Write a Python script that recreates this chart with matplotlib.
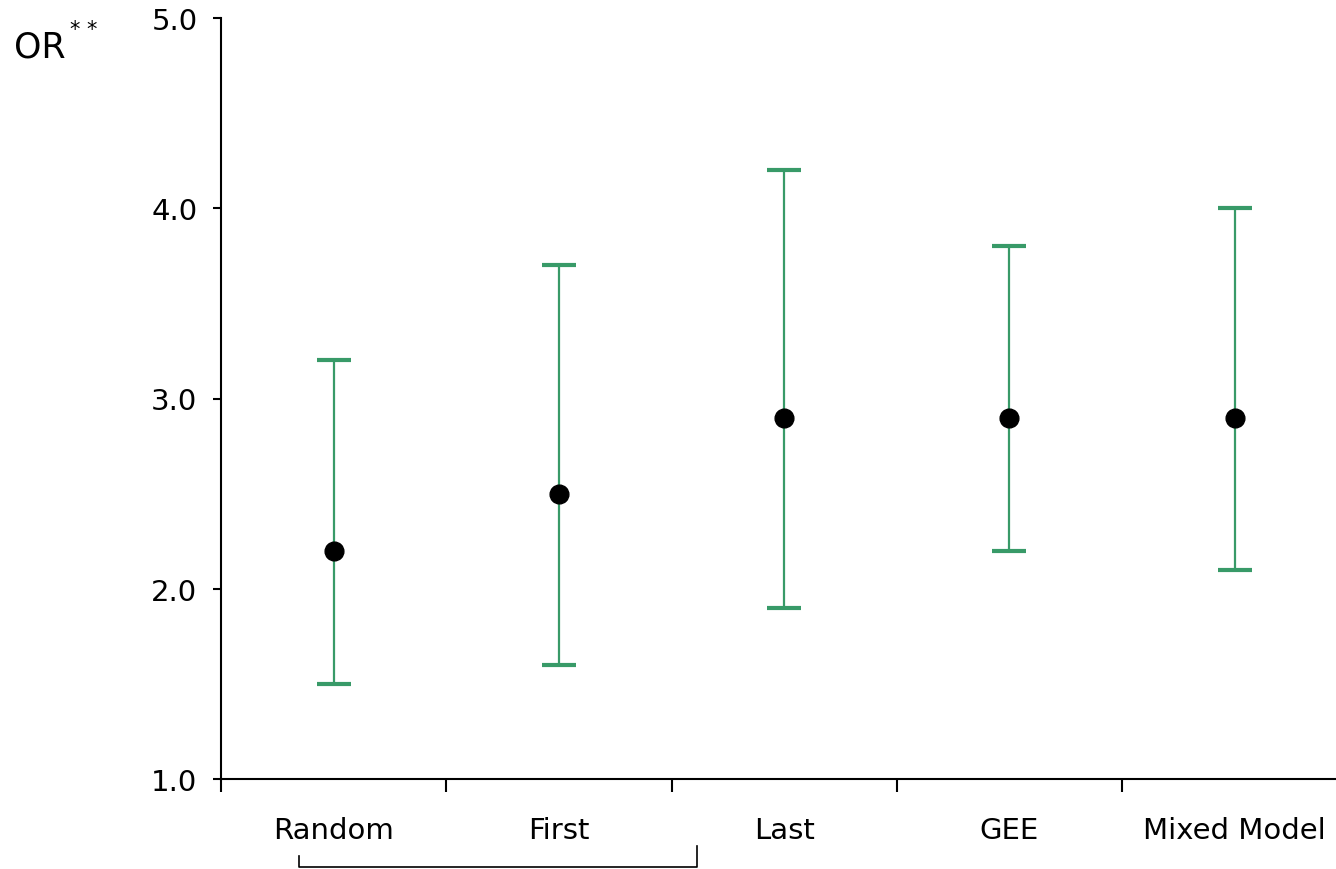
import numpy as np
import matplotlib
matplotlib.use("Agg")
import matplotlib.pyplot as plt
import matplotlib.transforms as mtransforms

methods = ["Random", "First", "Last", "GEE", "Mixed Model"]
odds_ratio = [2.2, 2.5, 2.9, 2.9, 2.9]
ci_low = [1.5, 1.6, 1.9, 2.2, 2.1]
ci_high = [3.2, 3.7, 4.2, 3.8, 4.0]
y_ticks = [1.0, 2.0, 3.0, 4.0, 5.0]

green = "#389a68"

fig = plt.figure(figsize=(13.36, 8.7), dpi=100)
ax = fig.add_axes([221 / 1336, 1 - 780 / 870, 1 - 221 / 1336, (780 - 19) / 870])

x = np.arange(len(methods))
or_arr = np.array(odds_ratio)
yerr = [or_arr - np.array(ci_low), np.array(ci_high) - or_arr]
ax.errorbar(x, or_arr, yerr=yerr, fmt="none", ecolor=green, elinewidth=1.6,
            capsize=12.5, capthick=3)
ax.plot(x, or_arr, "o", color="black", markersize=13.5, zorder=3)

ax.set_xlim(-0.5, 4.45)
ax.set_ylim(1.0, 5.0)

for s in ["top", "right"]:
    ax.spines[s].set_visible(False)
for s in ["left", "bottom"]:
    ax.spines[s].set_linewidth(1.5)

ax.set_yticks(y_ticks)
ax.set_yticklabels([f"{v:.1f}" for v in y_ticks], fontsize=21)
ax.tick_params(axis="y", direction="out", length=6, width=1.5, pad=11)

# boundary ticks between groups, labels at the centres
ax.set_xticks(np.arange(-0.5, len(methods) - 0.5, 1.0))
ax.set_xticklabels([])
ax.tick_params(axis="x", which="major", direction="out", length=9, width=1.5)
ax.set_xticks(x, minor=True)
ax.set_xticklabels(methods, minor=True, fontsize=21)
ax.tick_params(axis="x", which="minor", length=0, pad=27)

# bracket under Random / First
trans = mtransforms.blended_transform_factory(ax.transData, ax.transAxes)
bx0, bx1 = -0.155, 1.613
ax.plot([bx0, bx0, bx1, bx1], [-0.101, -0.1156, -0.1156, -0.088],
        color="black", lw=1.2, transform=trans, clip_on=False)

fig.text(14 / 1336, 1 - 48 / 870, "OR", fontsize=25, va="center", ha="left")
fig.text(70 / 1336, 1 - 30 / 870, "* *", fontsize=15, va="center", ha="left")

fig.savefig("out.png", dpi=100)
